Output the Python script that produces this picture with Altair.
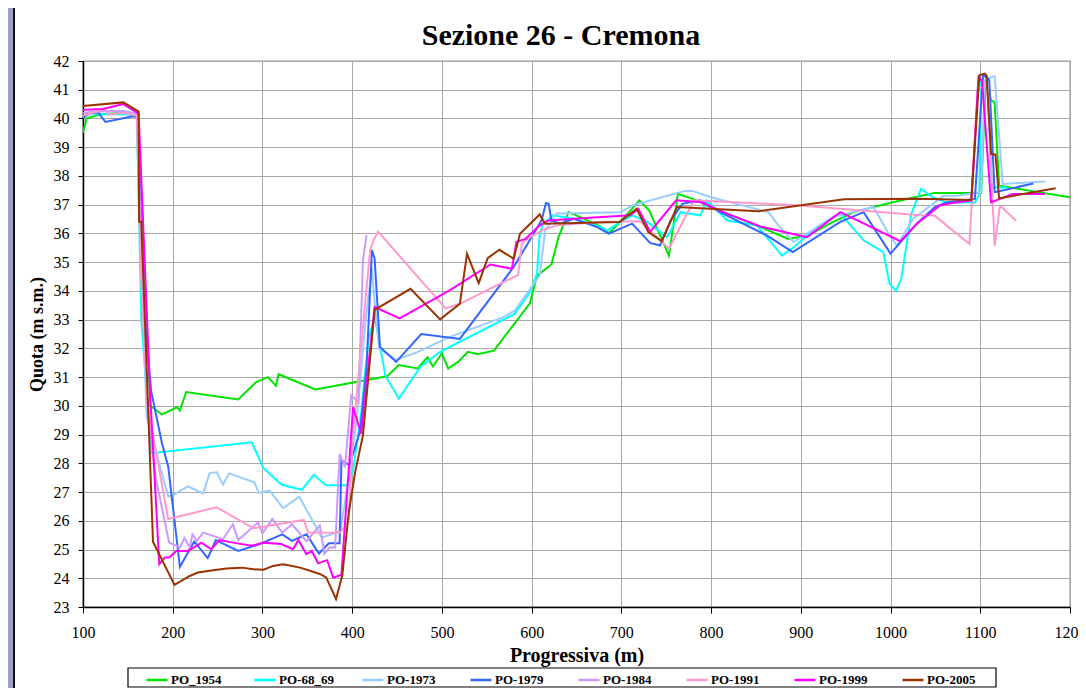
import altair as alt
import pandas as pd

# ---- data ----
series_names = ["PO_1954", "PO-68_69", "PO-1973", "PO-1979", "PO-1984", "PO-1991", "PO-1999", "PO-2005"]
series_colors = ["#00e400", "#00ffff", "#99ccff", "#3366ff", "#cc99ff", "#ff99cc", "#ff00ff", "#993300"]

x_1954 = [100, 104, 120, 145, 161, 175, 188, 205, 208, 215, 273, 293, 306, 315, 318, 359, 439, 452, 473, 484,
          490, 500, 507, 518, 529, 540, 558, 598, 606, 622, 630, 641, 650, 677, 686, 693, 712, 720, 731, 753,
          763, 784, 799, 851, 886, 908, 936, 959, 999, 1033, 1049, 1101, 1106, 1112, 1116, 1121, 1200]
y_1954 = [39.5, 40.0, 40.15, 40.2, 40.15, 30.0, 29.7, 29.95, 29.84, 30.48, 30.22, 30.83, 31.0, 30.7, 31.1, 30.57, 31.03, 31.42, 31.3, 31.69,
          31.37, 31.83, 31.3, 31.53, 31.88, 31.8, 31.92, 33.57, 34.53, 34.92, 35.87, 36.74, 36.63, 36.24, 36.01, 36.22, 36.86, 37.15, 36.8, 35.23,
          37.38, 37.15, 36.92, 36.28, 35.81, 35.93, 36.4, 36.74, 37.06, 37.3, 37.41, 37.41, 41.3, 40.63, 40.57, 37.66, 37.26]

x_6869 = [100, 106, 147, 160, 165, 176, 288, 301, 321, 344, 357, 371, 394, 401, 410, 418, 425, 437, 452, 476,
          498, 581, 598, 606, 609, 613, 624, 647, 677, 684, 699, 712, 729, 751, 766, 788, 795, 818, 851, 879,
          892, 918, 944, 970, 992, 999, 1006, 1012, 1023, 1027, 1034, 1047, 1062, 1094, 1099, 1101, 1105, 1108, 1113, 1130]
y_6869 = [40.05, 40.15, 40.15, 40.1, 33.0, 28.35, 28.73, 27.84, 27.26, 27.08, 27.6, 27.24, 27.24, 27.75, 29.73, 32.28, 33.1, 31.06, 30.25, 31.35,
          31.88, 33.2, 33.95, 34.6, 35.99, 36.34, 36.63, 36.51, 36.22, 36.1, 36.4, 36.63, 36.4, 35.87, 36.74, 36.63, 37.15, 36.45, 36.28, 35.23,
          35.52, 36.22, 36.69, 35.76, 35.35, 34.24, 34.01, 34.42, 36.67, 37.0, 37.55, 37.26, 37.08, 37.08, 37.37, 41.33, 41.5, 41.33, 37.6, 37.6]

x_1973 = [100, 120, 145, 161, 164, 171, 195, 202, 217, 234, 241, 249, 256, 263, 291, 296, 308, 323, 341, 357,
          366, 377, 387, 396, 405, 415, 422, 425, 430, 449, 472, 509, 568, 581, 609, 615, 628, 699, 713, 771,
          779, 799, 864, 875, 892, 936, 981, 999, 1007, 1025, 1059, 1073, 1101, 1105, 1112, 1116, 1125, 1172]
y_1973 = [40.05, 40.25, 40.26, 40.15, 35.5, 29.62, 26.84, 26.93, 27.2, 26.95, 27.66, 27.69, 27.26, 27.65, 27.34, 26.97, 27.05, 26.44, 26.84, 25.94,
          25.42, 25.53, 25.65, 27.5, 29.5, 33.0, 34.8, 33.6, 32.0, 31.6, 31.86, 32.4, 33.08, 33.31, 34.53, 36.1, 36.69, 36.74, 36.98, 37.48,
          37.48, 37.27, 36.74, 36.28, 35.7, 36.57, 36.92, 35.93, 35.57, 36.5, 37.31, 37.31, 37.43, 41.33, 41.44, 41.47, 37.72, 37.81]

x_1979 = [100, 106, 117, 125, 154, 162, 166, 176, 188, 195, 208, 224, 239, 248, 273, 297, 322, 333, 349, 363,
          374, 386, 388, 397, 409, 416, 422, 425, 431, 449, 477, 520, 580, 611, 616, 619, 622, 632, 647, 673,
          686, 712, 732, 743, 755, 768, 788, 810, 862, 891, 944, 970, 1000, 1029, 1049, 1062, 1094, 1103, 1107, 1110,
          1116, 1159]
y_1979 = [40.0, 40.2, 40.2, 39.88, 40.07, 40.07, 34.0, 30.5, 28.7, 27.88, 24.4, 25.28, 24.7, 25.33, 24.95, 25.19, 25.53, 25.3, 25.53, 24.86,
          25.22, 25.22, 28.1, 27.93, 29.15, 31.35, 35.42, 35.13, 32.05, 31.53, 32.5, 32.33, 34.83, 36.45, 37.06, 37.03, 36.45, 36.34, 36.51, 36.22,
          35.99, 36.34, 35.67, 35.58, 36.45, 37.03, 37.15, 36.74, 35.93, 35.35, 36.4, 36.74, 35.3, 36.33, 36.91, 37.08, 37.2, 41.5, 41.44, 41.33,
          37.43, 37.74]

x_1984 = [100, 120, 145, 161, 165, 172, 181, 196, 208, 213, 219, 222, 227, 234, 256, 267, 273, 295, 300, 311,
          322, 333, 349, 364, 369, 375, 381, 386, 392, 399, 407, 412, 416]
y_1984 = [40.2, 40.25, 40.25, 40.15, 35.0, 30.0, 27.5, 25.24, 25.07, 25.4, 25.07, 25.53, 25.3, 25.59, 25.36, 25.88, 25.33, 25.94, 25.56, 26.06,
          25.59, 25.88, 25.28, 25.84, 24.85, 25.08, 25.07, 28.33, 27.87, 30.37, 30.13, 35.07, 35.94]

x_1991 = [100, 117, 125, 128, 145, 160, 164, 172, 195, 249, 290, 346, 351, 386, 396, 401, 420, 424, 429, 504,
          520, 585, 589, 594, 613, 628, 676, 721, 753, 781, 799, 895, 1033, 1049, 1088, 1097, 1108, 1116, 1122, 1140]
y_1991 = [40.1, 40.25, 40.35, 40.13, 40.2, 40.1, 35.0, 30.0, 26.06, 26.47, 25.74, 26.03, 25.59, 25.58, 25.95, 29.03, 35.42, 35.77, 36.06, 33.39,
          33.55, 34.56, 35.64, 35.78, 36.13, 36.28, 36.4, 36.42, 35.47, 37.15, 37.13, 36.98, 36.63, 36.62, 35.63, 41.0, 41.2, 35.57, 36.97, 36.44]

x_1999 = [100, 122, 145, 162, 175, 185, 191, 196, 204, 217, 232, 243, 252, 267, 288, 301, 321, 334, 340, 349,
          355, 362, 372, 379, 388, 401, 410, 425, 453, 509, 554, 578, 583, 593, 609, 619, 647, 710, 719, 732,
          761, 788, 818, 855, 907, 944, 1011, 1029, 1055, 1073, 1090, 1098, 1102, 1112, 1136, 1172]
y_1999 = [40.3, 40.33, 40.5, 40.17, 30.3, 24.49, 24.72, 24.72, 24.95, 24.95, 25.24, 25.01, 25.33, 25.24, 25.13, 25.24, 25.19, 25.01, 25.33, 24.84,
          24.95, 24.52, 24.63, 24.02, 24.12, 29.95, 29.03, 33.44, 33.04, 34.03, 34.92, 34.77, 35.7, 35.81, 36.28, 36.45, 36.51, 36.63, 36.86, 36.05,
          37.15, 37.09, 36.69, 36.24, 35.87, 36.74, 35.73, 36.33, 36.97, 37.08, 37.14, 41.44, 41.3, 37.08, 37.37, 37.37]

x_2005 = [100, 145, 162, 162.5, 165, 178, 202, 219, 228, 245, 260, 277, 290, 301, 312, 323, 342, 364, 371, 382,
          389, 396, 403, 412, 425, 465, 498, 520, 528, 541, 551, 564, 580, 587, 609, 615, 698, 717, 730, 745,
          762, 799, 853, 948, 1033, 1090, 1099, 1105, 1107, 1112, 1117, 1121, 1184]
y_2005 = [40.43, 40.56, 40.24, 36.41, 36.41, 25.27, 23.77, 24.08, 24.2, 24.28, 24.34, 24.37, 24.31, 24.3, 24.43, 24.49, 24.37, 24.15, 24.03, 23.28,
          24.1, 26.24, 27.64, 28.97, 33.34, 34.07, 33.01, 33.55, 35.29, 34.27, 35.14, 35.43, 35.12, 35.99, 36.66, 36.34, 36.4, 36.86, 36.05, 35.73,
          36.92, 36.86, 36.77, 37.19, 37.21, 37.16, 41.5, 41.56, 41.5, 38.77, 38.74, 37.22, 37.57]

x_ticks = [100, 200, 300, 400, 500, 600, 700, 800, 900, 1000, 1100, 1200]
y_ticks = list(range(23, 43))

chart_title = "Sezione 26 - Cremona"

series_xy = [(x_1954, y_1954), (x_6869, y_6869), (x_1973, y_1973), (x_1979, y_1979),
             (x_1984, y_1984), (x_1991, y_1991), (x_1999, y_1999), (x_2005, y_2005)]

SERIF = "Liberation Serif"
W, H = 987, 546

rows = []
for name, (xs, ys) in zip(series_names, series_xy):
    for i, (xv, yv) in enumerate(zip(xs, ys)):
        rows.append({"x": xv, "y": yv, "series": name, "i": i})
data = pd.DataFrame(rows)

xscale = alt.Scale(domain=[100, 1200], nice=False, zero=False)
yscale = alt.Scale(domain=[23, 42], nice=False, zero=False)
cscale = alt.Scale(domain=series_names, range=series_colors)

x_axis = alt.Axis(values=x_ticks, format="d", title="Progressiva (m)", grid=True, gridColor="#a8a8a8",
                  labelFont=SERIF, labelFontSize=16, labelColor="black", labelBaseline="alphabetic",
                  labelPadding=24, labelFlush=False, labelOverlap=False,
                  tickSize=6, tickColor="black", domainColor="black", domainWidth=1.5,
                  titleFont=SERIF, titleFontSize=20, titleFontWeight="bold", titleColor="black",
                  titleBaseline="alphabetic", titleY=54)
y_axis = alt.Axis(values=y_ticks, format="d", title="Quota (m s.m.)", grid=True, gridColor="#a8a8a8",
                  labelFont=SERIF, labelFontSize=16, labelColor="black", labelPadding=9,
                  labelOverlap=False, labelFlush=False,
                  tickSize=5, tickColor="black", domainColor="black", domainWidth=1.5,
                  titleFont=SERIF, titleFontSize=18, titleFontWeight="bold", titleColor="black",
                  titleBaseline="alphabetic", titleX=-41)

legend = alt.Legend(orient="none", legendX=62, legendY=607, direction="horizontal", columns=8,
                    symbolType="stroke", symbolSize=441, symbolStrokeWidth=2.5,
                    labelFont=SERIF, labelFontSize=13, labelFontWeight="bold", labelColor="black",
                    labelOffset=2, columnPadding=23, gridAlign="all", padding=0, title=None)

lines = alt.Chart(data).mark_line(strokeWidth=2, clip=True).encode(
    x=alt.X("x:Q", scale=xscale, axis=x_axis),
    y=alt.Y("y:Q", scale=yscale, axis=y_axis),
    color=alt.Color("series:N", scale=cscale, legend=legend, sort=series_names),
    order=alt.Order("i:Q"),
)

one = pd.DataFrame({"k": [0]})

# purple page strip at left with the chart-area border line (decoration)
strip = alt.Chart(one).mark_rect(fill="#9d9dcb", stroke="#111111", strokeWidth=2).encode(
    x=alt.value(-80), x2=alt.value(-69), y=alt.value(-70), y2=alt.value(700))

# legend box (decoration)
legend_box = alt.Chart(one).mark_rect(fill="white", stroke="black", strokeWidth=1.2).encode(
    x=alt.value(45), x2=alt.value(913), y=alt.value(607), y2=alt.value(626))

title_text = alt.Chart(one).mark_text(font=SERIF, fontSize=30, fontWeight="bold", color="black",
                                      align="center", baseline="alphabetic").encode(
    x=alt.value(478), y=alt.value(-16), text=alt.value(chart_title))

chart = alt.layer(lines, strip, legend_box, title_text).properties(
    width=W, height=H,
    autosize=alt.AutoSizeParams(type="none"),
    padding={"left": 75, "top": 53, "right": 8, "bottom": 81},
).configure(background="white").configure_view(stroke="#3c3c3c", strokeWidth=1.2)

chart.save("out.html", embed_options={"renderer": "svg", "actions": False})
